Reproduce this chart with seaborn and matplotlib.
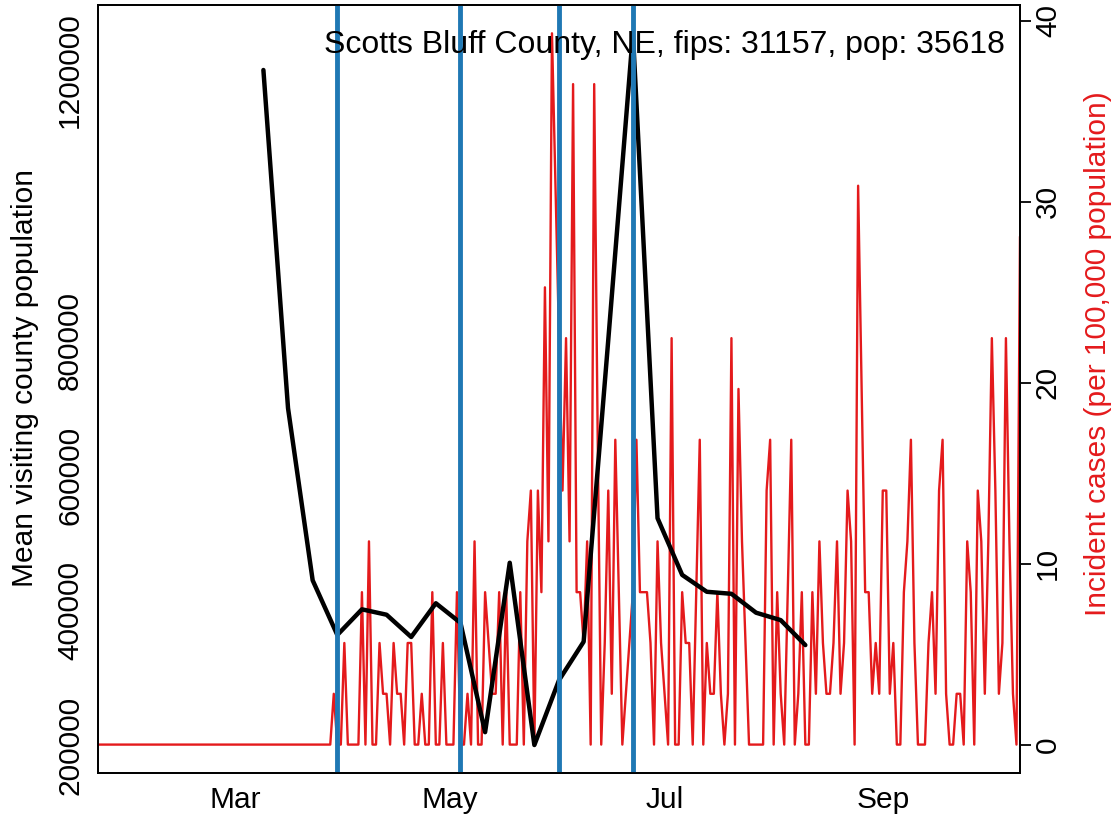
import matplotlib
matplotlib.use("Agg")
import matplotlib.pyplot as plt
import matplotlib.dates as mdates
import seaborn as sns
import pandas as pd

sns.set_style("white")
plt.rcParams['font.family'] = ['Liberation Sans', 'DejaVu Sans']
plt.rcParams['text.color'] = 'black'
plt.rcParams['xtick.color'] = 'black'
plt.rcParams['ytick.color'] = 'black'
plt.rcParams['xtick.labelcolor'] = 'black'
plt.rcParams['ytick.labelcolor'] = 'black'

POP = 35618
title = "Scotts Bluff County, NE, fips: 31157, pop: 35618"

# daily new case counts, zero from Jan 22 up to Mar 28, then from Mar 29 on
zero_start = "2020-01-22"
case_start = "2020-03-29"
new_cases = [1, 0, 0, 2, 0, 0, 0, 0, 3, 0,
             4, 0, 0, 2, 1, 1, 0, 2, 1, 1,
             0, 2, 2, 0, 0, 1, 0, 0, 3, 0,
             0, 2, 0, 0, 0, 3, 0, 0, 1, 0,
             4, 0, 0, 3, 2, 1, 1, 3, 0, 3,
             0, 0, 0, 3, 0, 4, 5, 0, 5, 3,
             9, 4, 14, 11, 8, 5, 8, 4, 13, 3,
             3, 2, 4, 0, 13, 6, 0, 2, 5, 1,
             6, 3, 0, 1, 2, 3, 6, 3, 3, 3,
             2, 0, 4, 2, 1, 0, 8, 0, 0, 3,
             2, 2, 0, 3, 6, 0, 2, 1, 1, 3,
             1, 0, 1, 8, 0, 7, 4, 2, 0, 0,
             0, 0, 0, 5, 6, 0, 3, 1, 0, 3,
             6, 0, 1, 3, 0, 0, 3, 1, 4, 2,
             1, 1, 2, 4, 1, 2, 5, 4, 0, 11,
             7, 3, 3, 1, 2, 1, 5, 5, 1, 2,
             0, 0, 3, 4, 6, 2, 0, 0, 0, 2,
             3, 1, 5, 6, 1, 0, 0, 1, 1, 0,
             4, 3, 0, 5, 4, 1, 4, 8, 5, 1,
             2, 8, 4, 1, 0, 10]

# weekly mean visiting county population
week_start = "2020-03-09"
mean_visiting = [1200000, 699000, 444000, 363000, 401000, 393000, 360000,
                 410000, 381000, 219000, 470000, 200000, 296000, 353000,
                 800000, 1254000, 536000, 452000, 427000, 424000, 396000,
                 385000, 348000]

event_dates = ["2020-03-30", "2020-05-04", "2020-06-01", "2020-06-22"]

pre_dates = pd.date_range(zero_start, case_start, inclusive="left")
case_dates = pd.date_range(case_start, periods=len(new_cases))
inc = pd.DataFrame({
    "date": list(pre_dates) + list(case_dates),
    "cases": [0] * len(pre_dates) + new_cases,
})
inc["incidence"] = inc["cases"] * 100000 / POP

mob = pd.DataFrame({
    "date": pd.date_range(week_start, periods=len(mean_visiting), freq="7D"),
    "visiting": mean_visiting,
})

RED = "#E41A1C"
BLUE = "#1F78B4"
FS = 21.5

fig = plt.figure(figsize=(11.19, 8.22), dpi=100)
rect = [98 / 1119, 49 / 822, 922 / 1119, 768 / 822]

ax_r = fig.add_axes(rect)
sns.lineplot(data=inc, x="date", y="incidence", color=RED, linewidth=1.7, ax=ax_r)
ax_r.set_ylim(-1.57, 40.87)
ax_r.yaxis.tick_right()
ax_r.set_yticks([0, 10, 20, 30, 40])
ax_r.set_yticklabels(["0", "10", "20", "30", "40"], rotation=90, va="center")
ax_r.set_xlabel("")
ax_r.set_ylabel("")
ax_r.tick_params(axis="x", bottom=False, labelbottom=False)

ax_b = fig.add_axes(rect, sharex=ax_r)
ax_b.patch.set_alpha(0)
sns.lineplot(data=mob, x="date", y="visiting", color="black", linewidth=3.2, ax=ax_b)
for d in event_dates:
    ax_b.axvline(pd.Timestamp(d), color=BLUE, linewidth=3.5)
ax_b.set_ylim(158519, 1296296)
yt = [200000, 400000, 600000, 800000, 1000000, 1200000]
ax_b.set_yticks(yt)
ax_b.set_yticklabels(["200000", "400000", "600000", "800000", "", "1200000"],
                     rotation=90, va="center")
ax_b.set_xlabel("")
ax_b.set_ylabel("")
ax_b.set_xlim(pd.Timestamp("2020-01-22"), pd.Timestamp("2020-10-10"))
ax_b.set_xticks([pd.Timestamp(s) for s in ["2020-03-01", "2020-05-01", "2020-07-01", "2020-09-01"]])
ax_b.xaxis.set_major_formatter(mdates.DateFormatter("%b"))

for a in (ax_r, ax_b):
    for sp in a.spines.values():
        sp.set_color("black")
        sp.set_linewidth(1.3)
    a.tick_params(length=8, width=1.3, labelsize=FS, direction="out",
                  color="black", labelcolor="black")
ax_b.tick_params(axis="y", pad=2)
ax_r.tick_params(axis="y", pad=2)
ax_b.tick_params(axis="x", pad=1)

ax_b.text(0.984, 0.948, title, transform=ax_b.transAxes, ha="right", va="center",
          fontsize=23, color="black")
fig.text(25 / 1119, 0.54, "Mean visiting county population", rotation=90,
         ha="center", va="center", fontsize=FS, color="black")
fig.text(1098 / 1119, 0.57, "Incident cases (per 100,000 population)", rotation=90,
         ha="center", va="center", fontsize=FS, color=RED)

fig.savefig("out.png", dpi=100)
